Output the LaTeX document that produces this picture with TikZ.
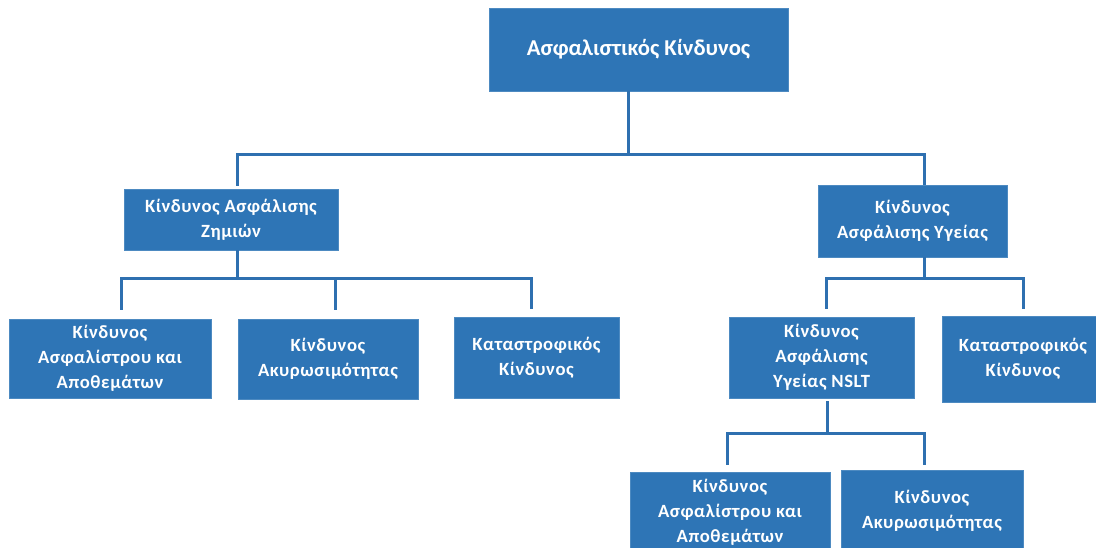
\documentclass[tikz,border=0pt]{standalone}
\usepackage{fontspec}
\setmainfont{Carlito}
\newfontfamily\spacedfont[LetterSpace=3]{Carlito}
\definecolor{boxblue}{HTML}{2E75B6}
\definecolor{lineblue}{HTML}{2E70B0}
\begin{document}
\begin{tikzpicture}[x=0.75pt,y=-0.75pt,
  box/.style={fill=boxblue, draw=boxblue!85!white, line width=0.5pt, text=white, align=center, inner sep=0pt,
    font=\spacedfont\fontsize{14}{18.75}\selectfont\bfseries},
  conn/.style={draw=lineblue, line width=2.25pt}]
\useasboundingbox (0,0) rectangle (1096,548);
\clip (0,0) rectangle (1096,548);
\node[box, minimum width=224.25pt, minimum height=62.25pt, font=\rmfamily\fontsize{17}{20}\selectfont\bfseries] (top) at (638.5,49.5) {Ασφαλιστικός Κίνδυνος};
\node[box, minimum width=160.5pt, minimum height=45.75pt] (lm) at (231,219.5) {Κίνδυνος Ασφάλισης\\Ζημιών};
\node[box, minimum width=141.75pt, minimum height=54pt] (rm) at (912.5,221) {Κίνδυνος\\Ασφάλισης Υγείας};
\node[box, minimum width=151.5pt, minimum height=59.25pt] (b1) at (110,358.5) {Κίνδυνος\\Ασφαλίστρου και\\Αποθεμάτων};
\node[box, minimum width=135pt, minimum height=60pt] (b2) at (328,359) {Κίνδυνος\\Ακυρωσιμότητας};
\node[box, minimum width=123.75pt, minimum height=60.75pt] (b3) at (536.5,357.5) {Καταστροφικός\\Κίνδυνος};
\node[box, minimum width=138.75pt, minimum height=60.75pt] (b4) at (821.5,357.5) {Κίνδυνος\\Ασφάλισης\\Υγείας NSLT};
\node[box, minimum width=121.5pt, minimum height=64.5pt] (b5) at (1023,359) {Καταστροφικός\\Κίνδυνος};
\node[box, minimum width=150pt, minimum height=60pt] (b6) at (730,512) {Κίνδυνος\\Ασφαλίστρου και\\Αποθεμάτων};
\node[box, minimum width=136.5pt, minimum height=61.5pt] (b7) at (932,511) {Κίνδυνος\\Ακυρωσιμότητας};
% level 1
\draw[conn] ([xshift=-7.5pt]top.south) -- ++(0,63) -| ([xshift=4.5pt,yshift=2.25pt]lm.north);
\draw[conn] ([xshift=-7.5pt]top.south) -- ++(0,63) -| ([xshift=8.625pt]rm.north);
% level 2 left
\draw[conn] ([xshift=4.5pt]lm.south) -- ++(0,28) -| ([xshift=8.25pt,yshift=6.75pt]b1.north);
\draw[conn] ([xshift=4.5pt]lm.south) -- ++(0,28) -| ([xshift=5.25pt,yshift=6.75pt]b2.north);
\draw[conn] ([xshift=4.5pt]lm.south) -- ++(0,28) -| ([xshift=-4.125pt,yshift=6pt]b3.north);
% level 2 right
\draw[conn] ([xshift=8.625pt]rm.south) -- ++(0,21) -| ([xshift=3.375pt,yshift=6pt]b4.north);
\draw[conn] ([xshift=8.625pt]rm.south) -- ++(0,21) -| ([yshift=5.25pt]b5.north);
% level 3
\draw[conn] ([xshift=4.125pt,yshift=-2.25pt]b4.south) -- ++(0,32) -| ([xshift=-2.25pt,yshift=5.25pt]b6.north);
\draw[conn] ([xshift=4.125pt,yshift=-2.25pt]b4.south) -- ++(0,32) -| ([xshift=-6pt,yshift=3.75pt]b7.north);
\end{tikzpicture}
\end{document}
